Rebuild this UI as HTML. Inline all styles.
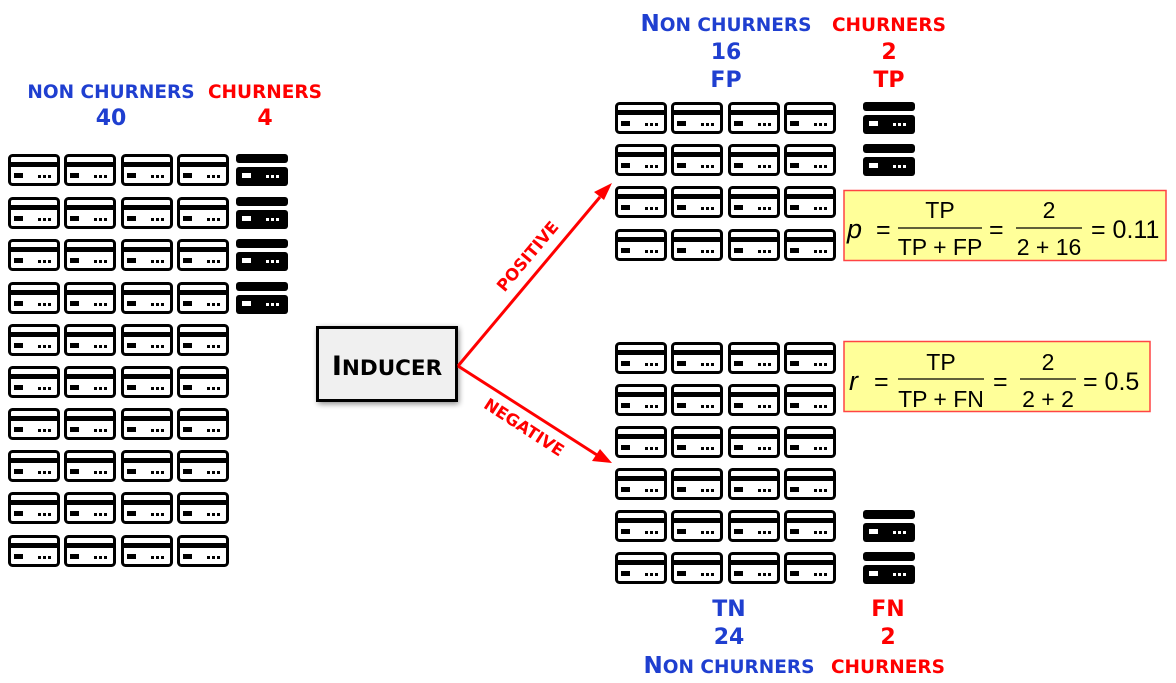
<!DOCTYPE html>
<html><head><meta charset="utf-8"><style>
html,body{margin:0;padding:0;background:#fff;width:1176px;height:683px;overflow:hidden}
svg{display:block}
.b{font-family:"DejaVu Sans","Liberation Sans",sans-serif;font-weight:bold}
.f{font-family:"Liberation Sans",sans-serif;font-size:23px}
</style></head><body>
<svg width="1176" height="683" viewBox="0 0 1176 683" xmlns="http://www.w3.org/2000/svg">
<defs>
<symbol id="w" viewBox="0 0 52 32" width="52" height="32">
<rect x="1.5" y="1.5" width="49" height="29" rx="3" fill="#fff" stroke="#000" stroke-width="3"/>
<rect x="1.5" y="8" width="49" height="5" fill="#000"/>
<rect x="6" y="19" width="9" height="5" fill="#000"/>
<rect x="30" y="21" width="3" height="3" fill="#000"/><rect x="35" y="21" width="3" height="3" fill="#000"/><rect x="40" y="21" width="3" height="3" fill="#000"/>
</symbol>
<symbol id="k" viewBox="0 0 52 32" width="52" height="32">
<rect x="0" y="0" width="52" height="9" rx="3" fill="#000"/>
<rect x="0" y="13" width="52" height="19" rx="3" fill="#000"/>
<rect x="6" y="19" width="9" height="5" fill="#fff"/>
<rect x="30" y="21" width="3" height="3" fill="#fff"/><rect x="35" y="21" width="3" height="3" fill="#fff"/><rect x="40" y="21" width="3" height="3" fill="#fff"/>
</symbol>
<filter id="sh" x="-20%" y="-20%" width="140%" height="140%"><feGaussianBlur stdDeviation="3"/></filter>
</defs>

<g>
<use href="#w" x="8" y="154"/><use href="#w" x="64" y="154"/><use href="#w" x="121" y="154"/><use href="#w" x="177" y="154"/>
<use href="#w" x="8" y="197"/><use href="#w" x="64" y="197"/><use href="#w" x="121" y="197"/><use href="#w" x="177" y="197"/>
<use href="#w" x="8" y="239"/><use href="#w" x="64" y="239"/><use href="#w" x="121" y="239"/><use href="#w" x="177" y="239"/>
<use href="#w" x="8" y="282"/><use href="#w" x="64" y="282"/><use href="#w" x="121" y="282"/><use href="#w" x="177" y="282"/>
<use href="#w" x="8" y="324"/><use href="#w" x="64" y="324"/><use href="#w" x="121" y="324"/><use href="#w" x="177" y="324"/>
<use href="#w" x="8" y="366"/><use href="#w" x="64" y="366"/><use href="#w" x="121" y="366"/><use href="#w" x="177" y="366"/>
<use href="#w" x="8" y="408"/><use href="#w" x="64" y="408"/><use href="#w" x="121" y="408"/><use href="#w" x="177" y="408"/>
<use href="#w" x="8" y="450"/><use href="#w" x="64" y="450"/><use href="#w" x="121" y="450"/><use href="#w" x="177" y="450"/>
<use href="#w" x="8" y="492"/><use href="#w" x="64" y="492"/><use href="#w" x="121" y="492"/><use href="#w" x="177" y="492"/>
<use href="#w" x="8" y="535"/><use href="#w" x="64" y="535"/><use href="#w" x="121" y="535"/><use href="#w" x="177" y="535"/>
<use href="#k" x="236" y="154"/><use href="#k" x="236" y="197"/><use href="#k" x="236" y="239"/><use href="#k" x="236" y="282"/>
</g>

<g>
<use href="#w" x="615" y="102"/><use href="#w" x="671" y="102"/><use href="#w" x="728" y="102"/><use href="#w" x="784" y="102"/>
<use href="#w" x="615" y="144"/><use href="#w" x="671" y="144"/><use href="#w" x="728" y="144"/><use href="#w" x="784" y="144"/>
<use href="#w" x="615" y="186"/><use href="#w" x="671" y="186"/><use href="#w" x="728" y="186"/><use href="#w" x="784" y="186"/>
<use href="#w" x="615" y="229"/><use href="#w" x="671" y="229"/><use href="#w" x="728" y="229"/><use href="#w" x="784" y="229"/>
<use href="#k" x="863" y="102"/><use href="#k" x="863" y="144"/>
</g>
<g>
<use href="#w" x="615" y="342"/><use href="#w" x="671" y="342"/><use href="#w" x="728" y="342"/><use href="#w" x="784" y="342"/>
<use href="#w" x="615" y="384"/><use href="#w" x="671" y="384"/><use href="#w" x="728" y="384"/><use href="#w" x="784" y="384"/>
<use href="#w" x="615" y="426"/><use href="#w" x="671" y="426"/><use href="#w" x="728" y="426"/><use href="#w" x="784" y="426"/>
<use href="#w" x="615" y="468"/><use href="#w" x="671" y="468"/><use href="#w" x="728" y="468"/><use href="#w" x="784" y="468"/>
<use href="#w" x="615" y="510"/><use href="#w" x="671" y="510"/><use href="#w" x="728" y="510"/><use href="#w" x="784" y="510"/>
<use href="#w" x="615" y="552"/><use href="#w" x="671" y="552"/><use href="#w" x="728" y="552"/><use href="#w" x="784" y="552"/>
<use href="#k" x="863" y="510"/><use href="#k" x="863" y="552"/>
</g>

<g class="b" text-anchor="middle">
<text x="111" y="98" font-size="18.5" fill="#1f3fd0">NON CHURNERS</text>
<text x="111" y="125" font-size="22" fill="#1f3fd0">40</text>
<text x="265" y="98" font-size="18.5" fill="#ff0000">CHURNERS</text>
<text x="265" y="125" font-size="22" fill="#ff0000">4</text>

<text x="726" y="31" fill="#1f3fd0"><tspan font-size="23">N</tspan><tspan font-size="18.5">ON CHURNERS</tspan></text>
<text x="726" y="59" font-size="22" fill="#1f3fd0">16</text>
<text x="726" y="87" font-size="22" fill="#1f3fd0">FP</text>
<text x="889" y="31" font-size="18.5" fill="#ff0000">CHURNERS</text>
<text x="889" y="59" font-size="22" fill="#ff0000">2</text>
<text x="889" y="87" font-size="22" fill="#ff0000">TP</text>

<text x="729" y="616" font-size="22" fill="#1f3fd0">TN</text>
<text x="729" y="644" font-size="22" fill="#1f3fd0">24</text>
<text x="729" y="673" fill="#1f3fd0"><tspan font-size="23">N</tspan><tspan font-size="18.5">ON CHURNERS</tspan></text>
<text x="888" y="616" font-size="22" fill="#ff0000">FN</text>
<text x="888" y="644" font-size="22" fill="#ff0000">2</text>
<text x="888" y="673" font-size="18.5" fill="#ff0000">CHURNERS</text>
</g>

<rect x="318" y="328" width="141" height="76" fill="#000" opacity="0.45" filter="url(#sh)"/>
<rect x="317.5" y="327.5" width="139" height="73" fill="#f0f0f0" stroke="#000" stroke-width="3"/>
<text x="387" y="375" class="b" text-anchor="middle" fill="#000"><tspan font-size="27">I</tspan><tspan font-size="21.5">NDUCER</tspan></text>

<line x1="458" y1="366" x2="600" y2="197" stroke="#ff0000" stroke-width="3"/>
<polygon points="612,183 594,192 604,200" fill="#ff0000"/>
<line x1="458" y1="366" x2="597" y2="455" stroke="#ff0000" stroke-width="3"/>
<polygon points="612,463 592,461 600,449" fill="#ff0000"/>
<text class="b" font-size="16.5" fill="#ff0000" text-anchor="middle" transform="translate(532,260) rotate(-50)">POSITIVE</text>
<text class="b" font-size="16.5" fill="#ff0000" text-anchor="middle" transform="translate(521,432) rotate(33)">NEGATIVE</text>

<rect x="844" y="190.5" width="322" height="70" fill="#ffff99" stroke="#ff4444" stroke-width="1.5"/>
<g class="f" fill="#000">
<text x="847" y="238" font-style="italic" font-size="27">p</text>
<text x="876" y="238" font-size="25">=</text>
<text x="940" y="218" text-anchor="middle">TP</text>
<line x1="898" y1="228" x2="982" y2="228" stroke="#000" stroke-width="1.3"/>
<text x="940" y="255" text-anchor="middle">TP + FP</text>
<text x="989" y="238" font-size="25">=</text>
<text x="1049" y="218" text-anchor="middle">2</text>
<line x1="1016" y1="228" x2="1082" y2="228" stroke="#000" stroke-width="1.3"/>
<text x="1049" y="255" text-anchor="middle">2 + 16</text>
<text x="1091" y="238" font-size="25">= 0.11</text>
</g>
<rect x="844" y="341.5" width="306" height="70" fill="#ffff99" stroke="#ff4444" stroke-width="1.5"/>
<g class="f" fill="#000">
<text x="849" y="390" font-style="italic" font-size="27">r</text>
<text x="874" y="390" font-size="25">=</text>
<text x="941" y="370" text-anchor="middle">TP</text>
<line x1="898" y1="379" x2="984" y2="379" stroke="#000" stroke-width="1.3"/>
<text x="941" y="407" text-anchor="middle">TP + FN</text>
<text x="993" y="390" font-size="25">=</text>
<text x="1048" y="370" text-anchor="middle">2</text>
<line x1="1020" y1="379" x2="1076" y2="379" stroke="#000" stroke-width="1.3"/>
<text x="1048" y="407" text-anchor="middle">2 + 2</text>
<text x="1083" y="390" font-size="25">= 0.5</text>
</g>
</svg>
</body></html>
